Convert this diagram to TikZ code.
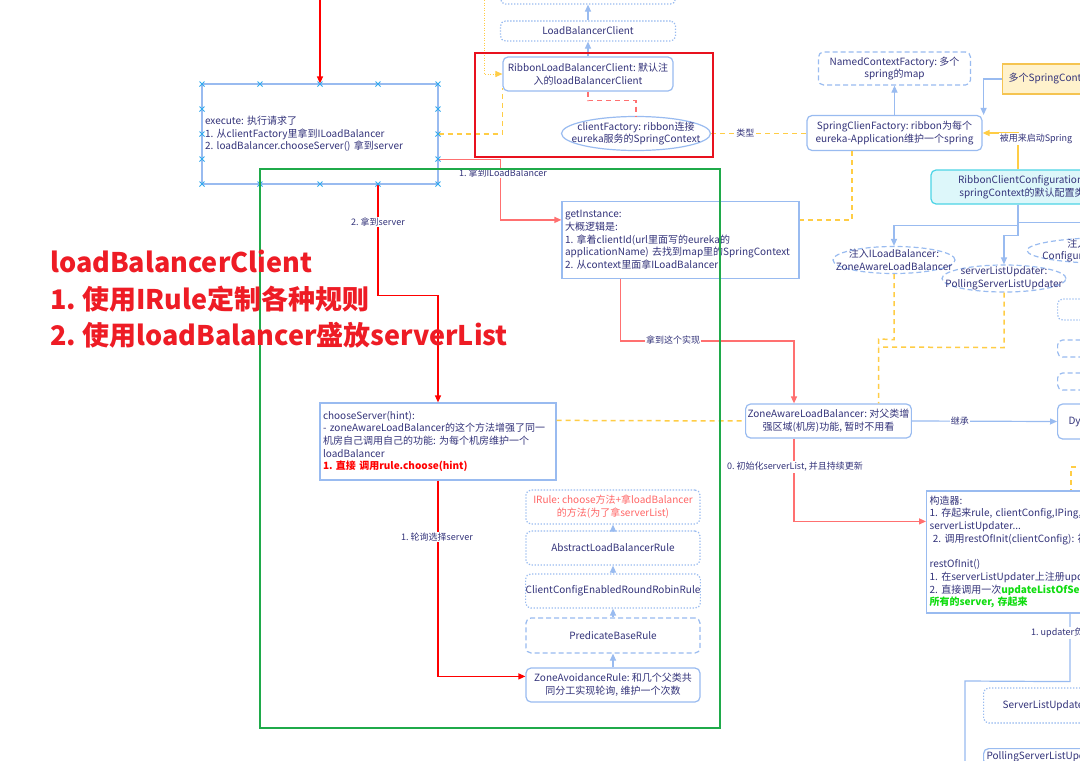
\documentclass[tikz,border=0pt]{standalone}
\usepackage{fontspec}
\setmainfont{Noto Sans CJK SC}
\frenchspacing
\usetikzlibrary{arrows.meta,shapes.geometric,calc}
\definecolor{bl}{HTML}{99BBF0}
\definecolor{txt}{HTML}{33337A}
\definecolor{rd}{HTML}{FF0000}
\definecolor{lrd}{HTML}{FF7070}
\definecolor{frd}{HTML}{E8111E}
\definecolor{yl}{HTML}{FFCD45}
\definecolor{gr}{HTML}{1FAA4A}
\definecolor{brg}{HTML}{11DD11}
\definecolor{cyf}{HTML}{DDF7FA}
\definecolor{cys}{HTML}{4DD4E6}
\definecolor{ylf}{HTML}{FFF2CC}
\definecolor{yls}{HTML}{F5C451}
\definecolor{xm}{HTML}{33AAEE}
\definecolor{irc}{HTML}{FF6666}
\definecolor{bigred}{HTML}{EE1C25}
\newcommand\fsz{\fontsize{10}{12.7}\selectfont}
\newcommand\lfsz{\fontsize{9}{11}\selectfont}
\newcommand\bigfz{\fontsize{27}{30}\selectfont\bfseries}
\newcommand\lin[1]{\mbox{#1}}
\tikzset{
  box/.style={draw=bl, line width=1.2pt, text=txt, inner sep=2pt, align=center, font=\fsz},
  rbox/.style={box, rounded corners=5pt},
  dbox/.style={rbox, dash pattern=on 5pt off 3pt},
  tbox/.style={rbox, dash pattern=on 1.3pt off 1.7pt},
  lbox/.style={box, align=left, inner sep=3pt},
  ell/.style={ellipse, draw=bl, line width=1.2pt, inner sep=0pt},
  dell/.style={ell, dash pattern=on 5pt off 3pt},
  txtn/.style={text=txt, align=center, font=\fsz, inner sep=0pt},
  tip/.style={-{Triangle[length=7pt,width=6pt]}},
  barrow/.style={draw=bl, line width=1.2pt, tip},
  bline/.style={draw=bl, line width=1.2pt},
  ydash/.style={draw=yl, line width=1.5pt, dash pattern=on 5pt off 4pt},
  ydot/.style={draw=yl, line width=1pt, dash pattern=on 1pt off 1.5pt, tip},
  yarrow/.style={draw=yl, line width=1.4pt, tip},
  rarrow/.style={draw=rd, line width=1.2pt, tip},
  lrarrow/.style={draw=lrd, line width=1.3pt, tip},
  lrdash/.style={draw=lrd, line width=1.3pt, dash pattern=on 5pt off 4pt},
  elabel/.style={fill=white, text=txt, font=\lfsz, inner sep=1pt},
  xmark/.style={draw=xm, line width=1pt},
  bigt/.style={anchor=base west, text=bigred, font=\bigfz, inner sep=0pt}
}
\begin{document}
\begin{tikzpicture}[x=1pt,y=-1pt]
\useasboundingbox (0,0) rectangle (1080,761);
\clip (0,0) rectangle (1080,761);
\fill[white] (0,0) rectangle (1080,761);

% ---------- nodes ----------
\node[lbox, minimum width=236, minimum height=100, text width=230] (exec) at (320,134)
  {\lin{execute: 执行请求了}\\\lin{1. 从clientFactory里拿到ILoadBalancer}\\\lin{2. loadBalancer.chooseServer() 拿到server}};
\node[rbox, minimum width=170, minimum height=34] (rlbc) at (588,74)
  {RibbonLoadBalancerClient: 默认注\\入的loadBalancerClient};
\node[tbox, minimum width=175, minimum height=20] (lbc) at (588,31) {LoadBalancerClient};
\node[tbox, minimum width=175, minimum height=28] (topd) at (588,-10) {};
\node[ell, minimum width=149, minimum height=34] (cf) at (636,133.5) {};
\node[txtn] (cft) at (cf) {clientFactory: ribbon连接\\eureka服务的SpringContext};
\node[rbox, minimum width=175, minimum height=35] (scf) at (894.5,133) {SpringClienFactory: ribbon为每个\\eureka-Application维护一个spring};
\node[dbox, minimum width=152, minimum height=33] (ncf) at (894.5,68.5) {NamedContextFactory: 多个\\spring的map};
\node[box, draw=yls, fill=ylf, anchor=west, minimum height=30, inner xsep=6pt] (msc) at (1002,79) {多个SpringContext的配置};
\node[rbox, draw=cys, fill=cyf, minimum width=182, minimum height=34] (rcc) at (1022,187) {RibbonClientConfiguration:\\springContext的默认配置类};
\node[dell, minimum width=122, minimum height=27] (ilb) at (894,260) {};
\node[txtn] (ilbt) at (ilb) {注入ILoadBalancer:\\ZoneAwareLoadBalancer};
\node[dell, minimum width=124, minimum height=27] (slu) at (1004,278.5) {};
\node[txtn] (slut) at (slu) {serverListUpdater:\\PollingServerListUpdater};
\node[dell, minimum width=170, minimum height=26] (e3) at (1112,250.5) {};
\node[txtn] (e3t) at (e3) {注入ServerList实现:\\ConfigurationBasedServerList};
\node[tbox, anchor=west, minimum width=60, minimum height=21] (r1) at (1057,309.5) {};
\node[dbox, anchor=west, minimum width=60, minimum height=17] (r2) at (1057,348.5) {};
\node[dbox, anchor=west, minimum width=60, minimum height=17] (r3) at (1057,381.5) {};

\node[lbox, minimum width=237, minimum height=77, text width=231] (gi) at (680.5,240)
  {\lin{getInstance:}\\\lin{大概逻辑是:}\\\lin{1. 拿着clientId(url里面写的eureka的}\\\lin{applicationName) 去找到map里的SpringContext}\\\lin{2. 从context里面拿ILoadBalancer}};
\node[rbox, minimum width=155, minimum height=34] (zalb) at (828.5,421) {ZoneAwareLoadBalancer: 对父类增\\强区域(机房)功能, 暂时不用看};
\node[rbox, anchor=west, minimum height=35, inner xsep=11pt] (dy) at (1057,421.5) {DynamicServerListLoadBalancer};
\node[lbox, minimum width=236, minimum height=77, text width=230] (cs) at (438,441.5)
  {\lin{chooseServer(hint):}\\\lin{- zoneAwareLoadBalancer的这个方法增强了同一}\\\lin{机房自己调用自己的功能: 为每个机房维护一个}\\\lin{loadBalancer}\\\lin{\textcolor{rd}{\bfseries 1. 直接 调用rule.choose(hint)}}};
\node[lbox, anchor=west, minimum height=122, text width=320] (kz) at (926,552)
  {\lin{构造器:}\\\lin{1. 存起来rule, clientConfig,IPing, serverList, filter,}\\\lin{serverListUpdater...}\\\lin{\ 2. 调用restOfInit(clientConfig): 初始化}\\[12.7pt]\lin{restOfInit()}\\\lin{1. 在serverListUpdater上注册updateAction}\\\lin{2. 直接调用一次\textcolor{brg}{\bfseries updateListOfServers(), 获取}}\\\lin{\textcolor{brg}{\bfseries 所有的server, 存起来}}};
\node[tbox, anchor=west, minimum height=35, inner xsep=19pt] (slud) at (983,705.5) {ServerListUpdater};
\node[rbox, anchor=north west, inner sep=3pt, align=left] (psl) at (983,748) {PollingServerListUpdater};

\node[tbox, minimum width=174, minimum height=34, text=irc] (irule) at (613,507) {IRule: choose方法+拿loadBalancer\\的方法(为了拿serverList)};
\node[tbox, minimum width=174, minimum height=34] (albr) at (613,548) {AbstractLoadBalancerRule};
\node[tbox, minimum width=174, minimum height=34, inner xsep=0pt] (ccer) at (613,591) {ClientConfigEnabledRoundRobinRule};
\node[dbox, minimum width=174, minimum height=35] (pbr) at (613,635.5) {PredicateBaseRule};
\node[rbox, minimum width=174, minimum height=34] (zar) at (613,685) {ZoneAvoidanceRule: 和几个父类共\\同分工实现轮询, 维护一个次数};

\coordinate (topin) at (320,0);
\coordinate (ytop) at (484,0);
\coordinate (yr) at (1085,467);
\coordinate (bot) at (965,770);

% ---------- connectors ----------
\draw[rarrow] (topin) -- (exec.north);
\draw[ydash] (exec.east) -| ($(rlbc.south west)+(0,-4)$);
\draw[ydot] (ytop) |- (rlbc.west);
\draw[barrow] (rlbc.north) -- (lbc.south);
\draw[barrow] (lbc.north) -- (topd.south);
\draw[lrdash] (rlbc.south) -- ++(0,9) -| (cf.north);
\draw[ydash] (cf.east) -- (cf.east -| scf.west) node[elabel, pos=0.36] {类型};
\draw[barrow] (scf.north) -- (ncf.south);
\draw[barrow] (msc.west) -| ($(scf.north east)+(1,0)$);
\draw[yarrow] ($(rcc.north)+(-4,0)$) |- (scf.east);
\node[elabel] (lb1) at (1036,139) {被用来启动Spring};
\draw[barrow] ($(rcc.south)+(-4,0)$) -- ++(0,21) -| (ilb.north);
\draw[bline] ($(rcc.south)+(-4,0)$) -- ++(0,18) -- ++(120,0);
\draw[barrow] ($(rcc.south)+(-4,0)$) -- ++(0,31) -| (slu.north);
\draw[ydash] (ilb.south) -- ++(0,65.5) -- (878.5,339) -- ($(zalb.north)+(50,0)$);
\draw[ydash] (slu.south) -- ++(0,55) -- (878.5,347);
\draw[ydash] ($(scf.south)+(-42.5,0)$) |- ($(gi.north east)+(0,19)$);
\draw[lrarrow] ($(exec.south east)+(0,-25)$) -- ++(62,0) |- ($(gi.north west)+(0,19)$);
\node[elabel] (lb2) at (503,173) {1. 拿到ILoadBalancer};
\draw[lrarrow] ($(gi.south west)+(59,0)$) -- ++(0,62) -| ($(zalb.north)+(-34.5,0)$);
\node[elabel] (lb3) at (673,340) {拿到这个实现};
\draw[rarrow] ($(exec.south)+(58,0)$) -- ++(0,111) -| (cs.north);
\node[elabel] (lb4) at (378,222) {2. 拿到server};
\draw[ydash] ($(cs.north east)+(0,18)$) -- (zalb.west);
\draw[barrow] (zalb.east) -- (dy.west) node[elabel, pos=0.33] {继承};
\draw[lrarrow] ($(zalb.south)+(-34.5,0)$) |- ($(kz.north west)+(0,31)$);
\node[elabel] (lb5) at (795,467) {0. 初始化serverList, 并且持续更新};
\draw[ydash] (yr) -- (1071,467) -- ($(kz.north west)+(145,0)$);
\draw[bline] ($(kz.south west)+(144,0)$) -- ++(0,68) -- (965,681) -- (bot);
\node[elabel, anchor=west] (lb6) at (1030,633) {1. updater负责定时更新};
\draw[barrow] (zar.north) -- (pbr.south);
\draw[barrow] (pbr.north) -- (ccer.south);
\draw[barrow] (ccer.north) -- (albr.south);
\draw[barrow] (albr.north) -- (irule.south);
\draw[rarrow] (cs.south) |- ($(zar.north west)+(0,9)$);
\node[elabel] (lb7) at (437,537) {1. 轮询选择server};

% cross marks on execute box
\foreach \px in {202,260,320,378,438} {
  \foreach \py in {84,184} {
    \draw[xmark] (\px-2.5,\py-2.5) -- (\px+2.5,\py+2.5) (\px-2.5,\py+2.5) -- (\px+2.5,\py-2.5);
  }
}
\foreach \px in {202,438} {
  \foreach \py in {109,134,159} {
    \draw[xmark] (\px-2.5,\py-2.5) -- (\px+2.5,\py+2.5) (\px-2.5,\py+2.5) -- (\px+2.5,\py-2.5);
  }
}

% frames
\node[draw=frd, line width=2pt, minimum width=238, minimum height=104, inner sep=0pt] (redframe) at (594,105) {};
\node[draw=gr, line width=2pt, minimum width=460, minimum height=559, inner sep=0pt] (greenframe) at (490,448.5) {};

% big text
\node[bigt] (bt1) at (50,272) {loadBalancerClient};
\node[bigt] (bt2) at (50,309) {1. 使用IRule定制各种规则};
\node[bigt] (bt3) at (50,345) {2. 使用loadBalancer盛放serverList};
\end{tikzpicture}
\end{document}
